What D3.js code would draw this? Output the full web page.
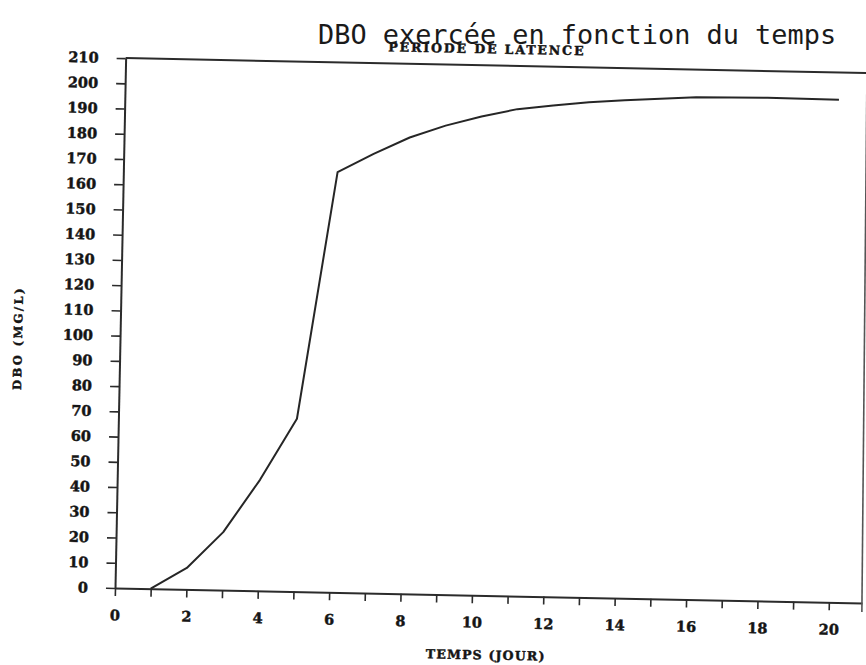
<!DOCTYPE html>
<html>
<head>
<meta charset="utf-8">
<script src="https://cdn.jsdelivr.net/npm/d3@7/dist/d3.min.js"></script>
<style>
  body { margin: 0; background: #fff; }
  svg { display: block; }
  .tick text, .lbl { font-family: "DejaVu Serif", serif; font-weight: bold; fill: #151515; stroke: #151515; stroke-width: 0.45; }
</style>
</head>
<body>
<svg id="chart" width="866" height="665"></svg>
<script>
// DBO measured each day (mg/L)
const days = [1, 2, 3, 4, 5, 6, 7, 8, 9, 10, 11, 12, 13, 14, 15, 16, 17, 18, 19, 20];
const dbo  = [0, 8.5, 23, 44, 68.5, 166.5, 174, 180.8, 185.8, 189.7, 192.9, 194.6, 196.2, 197.3, 198.2, 199.0, 199.2, 199.4, 199.3, 199.2];

// Axis ticks
const xTickValues = [0, 1, 2, 3, 4, 5, 6, 7, 8, 9, 10, 11, 12, 13, 14, 15, 16, 17, 18, 19, 20];
const xTickLabels = [0, 2, 4, 6, 8, 10, 12, 14, 16, 18, 20];
const yTickValues = [0, 10, 20, 30, 40, 50, 60, 70, 80, 90, 100, 110, 120, 130, 140, 150, 160, 170, 180, 190, 200, 210];

// Text
const pageTitle = "DBO exercée en fonction du temps";
const plotTitle = "PERIODE DE LATENCE";
const xTitle = "TEMPS (JOUR)";
const yTitle = "DBO (MG/L)";

const svg = d3.select("#chart");
svg.append("rect").attr("width", 866).attr("height", 665).attr("fill", "#fff");

const xMax = 20.93;
const x = d3.scaleLinear().domain([0, xMax]).range([0, 747.2]);
const y = d3.scaleLinear().domain([0, 210]).range([0, -530]);

// the plotted sheet sits slightly tilted
const g = svg.append("g").attr("transform", "translate(115,588) rotate(1.15)");

const ink = "#2b2b2b";

// x axis
const xAxis = g.append("g")
  .call(d3.axisBottom(x)
    .tickValues(xTickValues)
    .tickFormat(d => xTickLabels.includes(d) ? d : "")
    .tickSize(8).tickSizeOuter(0).tickPadding(14));
xAxis.select(".domain").attr("stroke", ink).attr("stroke-width", 2);
xAxis.selectAll(".tick line").attr("stroke", ink).attr("stroke-width", 1.6);
xAxis.selectAll(".tick text").attr("font-size", 14.5);

// y axis
const yAxis = g.append("g")
  .call(d3.axisLeft(y)
    .tickValues(yTickValues)
    .tickSize(9).tickSizeOuter(0).tickPadding(18));
yAxis.select(".domain").attr("stroke", ink).attr("stroke-width", 2);
yAxis.selectAll(".tick line").attr("stroke", ink).attr("stroke-width", 1.6);
yAxis.selectAll(".tick text").attr("font-size", 14.5);

// frame: top edge runs off the sheet, right edge closes the plot
g.append("path")
  .attr("d", d3.line()([[x(0), y(210)], [x(21.6), y(210)]]))
  .attr("fill", "none").attr("stroke", ink).attr("stroke-width", 2);
g.append("path")
  .attr("d", d3.line()([[x(20.77), y(210)], [x(xMax), y(0) + 9]]))
  .attr("fill", "none").attr("stroke", "#555").attr("stroke-width", 1.6);

// DBO curve
g.append("path")
  .datum(days.map((d, i) => [d, dbo[i]]))
  .attr("d", d3.line().x(d => x(d[0])).y(d => y(d[1])))
  .attr("fill", "none").attr("stroke", "#262626").attr("stroke-width", 2)
  .attr("stroke-linejoin", "round");

// titles on the plotted sheet
g.append("text").attr("class", "lbl")
  .attr("x", 361).attr("y", -530 - 12)
  .attr("text-anchor", "middle").attr("font-size", 12.5)
  .attr("letter-spacing", 1.9)
  .text(plotTitle);

g.append("text").attr("class", "lbl")
  .attr("x", 372).attr("y", 64)
  .attr("text-anchor", "middle").attr("font-size", 12.5)
  .attr("letter-spacing", 1.2)
  .text(xTitle);

g.append("text").attr("class", "lbl")
  .attr("transform", "translate(-98,-248) rotate(-90)")
  .attr("text-anchor", "middle").attr("font-size", 11.5)
  .attr("letter-spacing", 2.4)
  .text(yTitle);

// page title
svg.append("text")
  .attr("x", 318).attr("y", 44)
  .attr("font-family", "'DejaVu Sans Mono', monospace")
  .attr("font-size", 26.9).attr("fill", "#1a1a1a")
  .text(pageTitle);
</script>
</body>
</html>
